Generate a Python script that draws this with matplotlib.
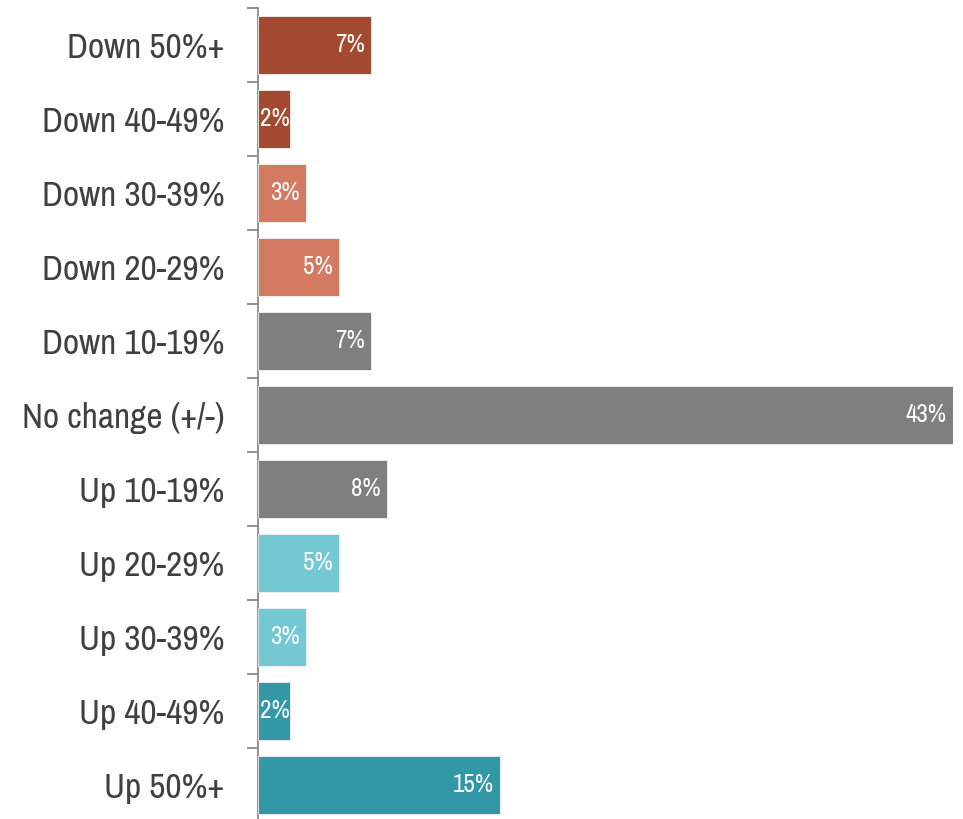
import matplotlib
matplotlib.use("Agg")
import matplotlib.pyplot as plt

CATEGORIES = ["Down 50%+", "Down 40-49%", "Down 30-39%", "Down 20-29%",
              "Down 10-19%", "No change (+/-)", "Up 10-19%", "Up 20-29%",
              "Up 30-39%", "Up 40-49%", "Up 50%+"]
VALUES = [7, 2, 3, 5, 7, 43, 8, 5, 3, 2, 15]
COLORS = ["#A34A30", "#A34A30", "#D27A62", "#D27A62", "#7F7F7F", "#7F7F7F",
          "#7F7F7F", "#73C8D4", "#73C8D4", "#3398A5", "#3398A5"]

FAMILY = ["Archivo Narrow", "DejaVu Sans"]

fig = plt.figure(figsize=(9.63, 8.19), dpi=100)
ax = fig.add_axes([258 / 963, -3 / 819, (953 - 258) / 963, (822 - 8) / 819])

n = len(CATEGORIES)
ys = list(range(n))
ax.barh(ys, VALUES, height=0.78, color=COLORS, edgecolor="#f2f2f2", linewidth=0.6, zorder=3)
ax.set_xlim(0, 43)
ax.set_ylim(n - 0.5, -0.5)

# white value labels inside the bar end; tiny bars get almost no padding
for y, v in zip(ys, VALUES):
    off = 0.4 if v > 2 else 0.02
    ax.text(v - off, y, f"{v}%", ha="right", va="center", color="white",
            fontsize=18, family=FAMILY, zorder=4)

for s in ("top", "right", "bottom"):
    ax.spines[s].set_visible(False)
ax.spines["left"].set_color("#808080")
ax.spines["left"].set_linewidth(1.2)
ax.set_xticks([])

ax.set_yticks(ys)
ax.set_yticklabels(CATEGORIES, fontsize=25.5, color="#404040", family=FAMILY)
ax.tick_params(axis="y", which="major", length=0, pad=24)
ax.set_yticks([i - 0.5 for i in range(n + 1)], minor=True)
ax.tick_params(axis="y", which="minor", length=8, width=1.2, color="#808080")

fig.savefig("out.png", dpi=100)
